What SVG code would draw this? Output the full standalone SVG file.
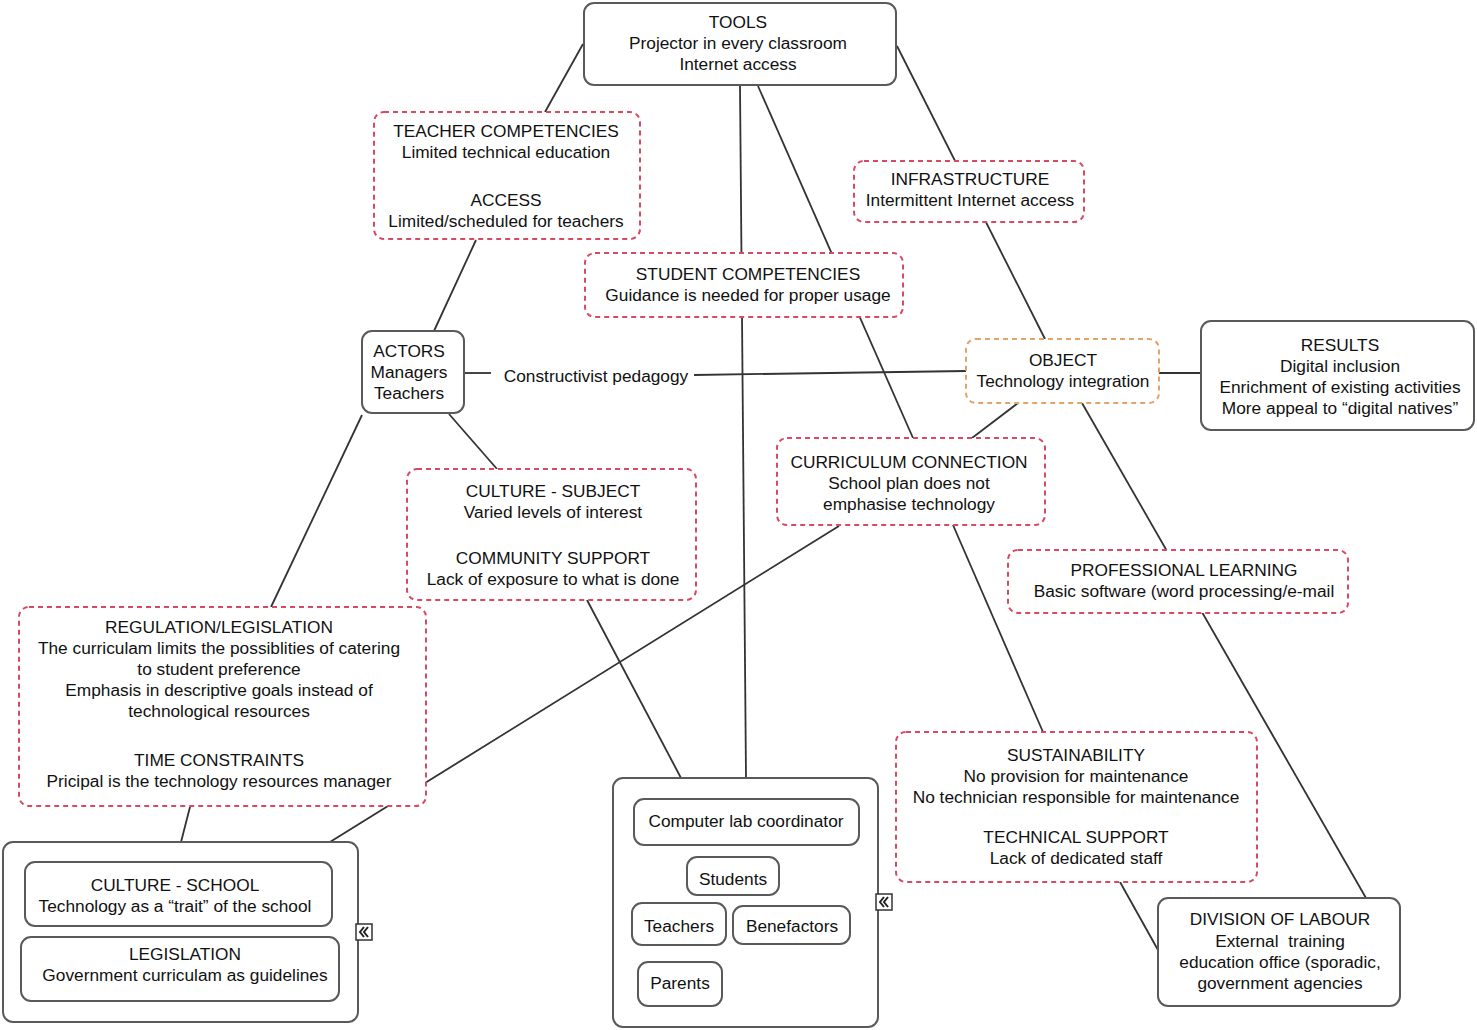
<svg xmlns="http://www.w3.org/2000/svg" width="1477" height="1030" viewBox="0 0 1477 1030">
<style>
.solid{fill:#fff;stroke:#5a5a5a;stroke-width:2}
.dash{fill:#fff;stroke:#d64a63;stroke-width:2;stroke-dasharray:5 4}
.dasho{fill:#fff;stroke:#e3a36b;stroke-width:2;stroke-dasharray:5 4}
.con{stroke:#333;stroke-width:1.8;fill:none}
text{font-family:"Liberation Sans",Arial,sans-serif;font-size:17.3px;fill:#111;text-anchor:middle}
.ico{fill:#fff;stroke:#333;stroke-width:1.5}
.chev{fill:none;stroke:#222;stroke-width:2}
</style>
<rect width="1477" height="1030" fill="#fff"/>
<g id="connectors">
<line class="con" x1="583" y1="44" x2="545" y2="112"/>
<line class="con" x1="476" y1="240" x2="434" y2="331"/>
<line class="con" x1="740" y1="86" x2="746" y2="778"/>
<line class="con" x1="758" y1="86" x2="913" y2="438"/>
<line class="con" x1="953" y1="525" x2="1043" y2="732"/>
<line class="con" x1="1120" y1="882" x2="1158" y2="950"/>
<line class="con" x1="897" y1="46" x2="1045" y2="339"/>
<line class="con" x1="1082" y1="403" x2="1366" y2="898"/>
<line class="con" x1="464" y1="373" x2="491" y2="373"/>
<line class="con" x1="694" y1="375" x2="966" y2="371"/>
<line class="con" x1="1159" y1="373" x2="1201" y2="373"/>
<line class="con" x1="1018" y1="403" x2="972" y2="438"/>
<line class="con" x1="449" y1="414" x2="497" y2="469"/>
<line class="con" x1="362" y1="415" x2="271" y2="607"/>
<line class="con" x1="587" y1="600" x2="681" y2="778"/>
<line class="con" x1="839" y1="526" x2="330" y2="842"/>
<line class="con" x1="190" y1="807" x2="181" y2="842"/>
</g>
<g id="tools"><rect class="solid" x="584" y="3" width="312" height="82" rx="10"/>
<text x="738" y="28">TOOLS</text><text x="738" y="49">Projector in every classroom</text><text x="738" y="70">Internet access</text></g>
<g id="teacher-competencies"><rect class="dash" x="374" y="112" width="266" height="127" rx="10"/>
<text x="506" y="137">TEACHER COMPETENCIES</text><text x="506" y="158">Limited technical education</text><text x="506" y="206">ACCESS</text><text x="506" y="227">Limited/scheduled for teachers</text></g>
<g id="infrastructure"><rect class="dash" x="854" y="161" width="230" height="61" rx="10"/>
<text x="970" y="185">INFRASTRUCTURE</text><text x="970" y="206">Intermittent Internet access</text></g>
<g id="student-competencies"><rect class="dash" x="585" y="253" width="318" height="64" rx="10"/>
<text x="748" y="280">STUDENT COMPETENCIES</text><text x="748" y="301">Guidance is needed for proper usage</text></g>
<g id="actors"><rect class="solid" x="362" y="331" width="102" height="82" rx="10"/>
<text x="409" y="357">ACTORS</text><text x="409" y="378">Managers</text><text x="409" y="399">Teachers</text></g>
<g id="constructivist"><text x="596" y="382">Constructivist pedagogy</text></g>
<g id="object"><rect class="dasho" x="966" y="339" width="193" height="64" rx="10"/>
<text x="1063" y="366">OBJECT</text><text x="1063" y="387">Technology integration</text></g>
<g id="results"><rect class="solid" x="1201" y="321" width="273" height="109" rx="10"/>
<text x="1340" y="351">RESULTS</text><text x="1340" y="372">Digital inclusion</text><text x="1340" y="393">Enrichment of existing activities</text><text x="1340" y="414">More appeal to “digital natives”</text></g>
<g id="culture-subject"><rect class="dash" x="407" y="469" width="289" height="131" rx="10"/>
<text x="553" y="497">CULTURE - SUBJECT</text><text x="553" y="518">Varied levels of interest</text><text x="553" y="564">COMMUNITY SUPPORT</text><text x="553" y="585">Lack of exposure to what is done</text></g>
<g id="curriculum-connection"><rect class="dash" x="777" y="438" width="268" height="87" rx="10"/>
<text x="909" y="468">CURRICULUM CONNECTION</text><text x="909" y="489">School plan does not</text><text x="909" y="510">emphasise technology</text></g>
<g id="professional-learning"><rect class="dash" x="1008" y="550" width="340" height="63" rx="10"/>
<text x="1184" y="576">PROFESSIONAL LEARNING</text><text x="1184" y="597">Basic software (word processing/e-mail</text></g>
<g id="regulation"><rect class="dash" x="19" y="607" width="407" height="199" rx="10"/>
<text x="219" y="633">REGULATION/LEGISLATION</text><text x="219" y="654">The curriculam limits the possiblities of catering</text><text x="219" y="675">to student preference</text><text x="219" y="696">Emphasis in descriptive goals instead of</text><text x="219" y="717">technological resources</text><text x="219" y="766">TIME CONSTRAINTS</text><text x="219" y="787">Pricipal is the technology resources manager</text></g>
<g id="sustainability"><rect class="dash" x="896" y="732" width="361" height="150" rx="10"/>
<text x="1076" y="761">SUSTAINABILITY</text><text x="1076" y="782">No provision for maintenance</text><text x="1076" y="803">No technician responsible for maintenance</text><text x="1076" y="843">TECHNICAL SUPPORT</text><text x="1076" y="864">Lack of dedicated staff</text></g>
<g id="division-of-labour"><rect class="solid" x="1158" y="898" width="242" height="108" rx="10"/>
<text x="1280" y="925">DIVISION OF LABOUR</text><text x="1280" y="947" xml:space="preserve" style="white-space:pre">External  training</text><text x="1280" y="968">education office (sporadic,</text><text x="1280" y="989">government agencies</text></g>
<g id="school-group"><rect class="solid" x="3" y="842" width="355" height="180" rx="10"/>
<g id="culture-school"><rect class="solid" x="25" y="862" width="307" height="64" rx="10"/>
<text x="175" y="891">CULTURE - SCHOOL</text><text x="175" y="912">Technology as a “trait” of the school</text></g>
<g id="legislation"><rect class="solid" x="21" y="937" width="318" height="64" rx="10"/>
<text x="185" y="960">LEGISLATION</text><text x="185" y="981">Government curriculam as guidelines</text></g>
<rect class="ico" x="356" y="924" width="16" height="16"/>
<polyline class="chev" points="364,927 360,932 364,937"/><polyline class="chev" points="368,927 364,932 368,937"/></g>
<g id="people-group"><rect class="solid" x="613" y="778" width="265" height="249" rx="10"/>
<g id="coordinator"><rect class="solid" x="634" y="799" width="225" height="46" rx="10"/><text x="746" y="827">Computer lab coordinator</text></g>
<g id="students"><rect class="solid" x="687" y="857" width="92" height="38" rx="10"/><text x="733" y="885">Students</text></g>
<g id="teachers"><rect class="solid" x="632" y="903" width="94" height="42" rx="10"/><text x="679" y="932">Teachers</text></g>
<g id="benefactors"><rect class="solid" x="733" y="906" width="117" height="38" rx="10"/><text x="792" y="932">Benefactors</text></g>
<g id="parents"><rect class="solid" x="638" y="962" width="84" height="44" rx="10"/><text x="680" y="989">Parents</text></g>
<rect class="ico" x="876" y="894" width="16" height="16"/>
<polyline class="chev" points="884,897 880,902 884,907"/><polyline class="chev" points="888,897 884,902 888,907"/></g>
</svg>
